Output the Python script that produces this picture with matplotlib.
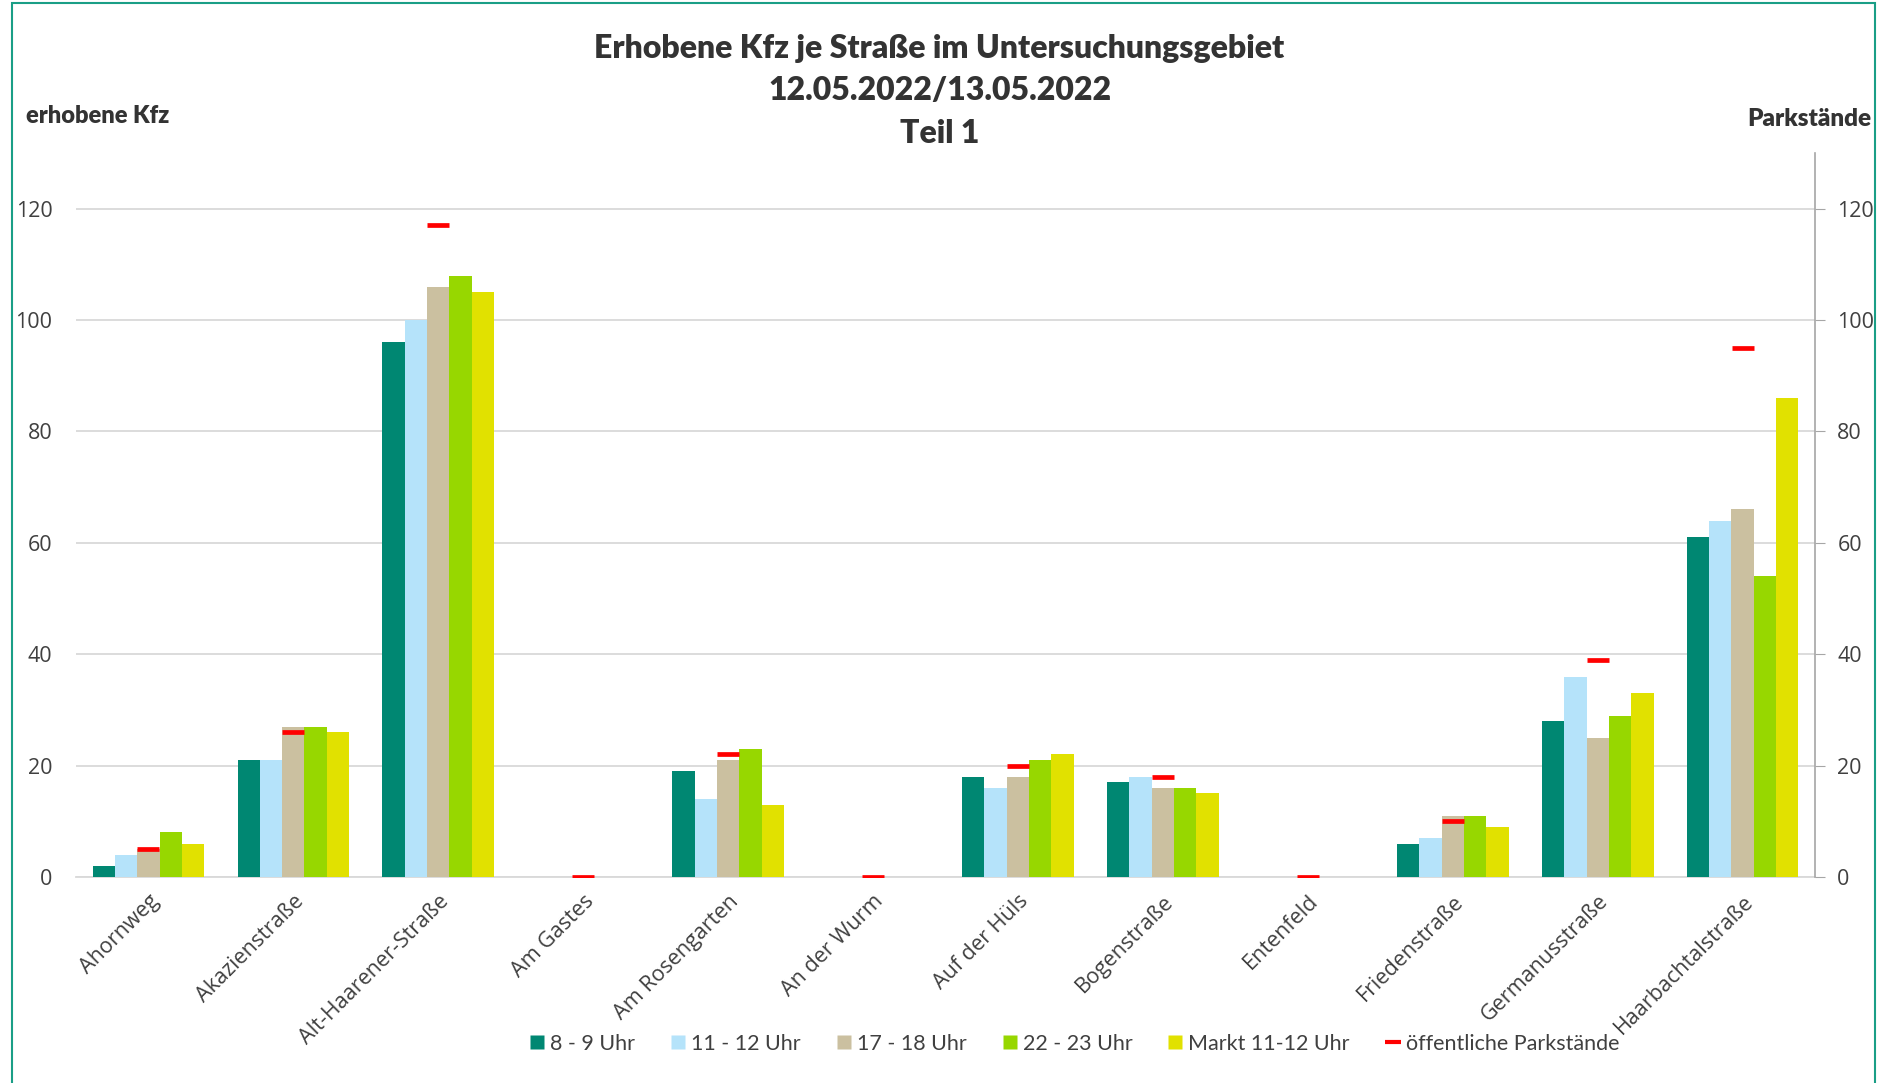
import matplotlib
matplotlib.use("Agg")
import matplotlib.pyplot as plt
import numpy as np
from matplotlib.patches import Rectangle
from matplotlib.lines import Line2D

plt.rcParams['font.family'] = ['Lato', 'DejaVu Sans']

categories = ["Ahornweg", "Akazienstraße", "Alt-Haarener-Straße", "Am Gastes",
              "Am Rosengarten", "An der Wurm", "Auf der Hüls", "Bogenstraße",
              "Entenfeld", "Friedenstraße", "Germanusstraße", "Haarbachtalstraße"]
s_8_9 = [2, 21, 96, 0, 19, 0, 18, 17, 0, 6, 28, 61]
s_11_12 = [4, 21, 100, 0, 14, 0, 16, 18, 0, 7, 36, 64]
s_17_18 = [5, 27, 106, 0, 21, 0, 18, 16, 0, 11, 25, 66]
s_22_23 = [8, 27, 108, 0, 23, 0, 21, 16, 0, 11, 29, 54]
s_markt = [6, 26, 105, 0, 13, 0, 22, 15, 0, 9, 33, 86]
parkstaende = [5, 26, 117, 0, 22, 0, 20, 18, 0, 10, 39, 95]

series_names = ["8 - 9 Uhr", "11 - 12 Uhr", "17 - 18 Uhr", "22 - 23 Uhr", "Markt 11-12 Uhr"]
colors = ["#008772", "#B5E3FA", "#CBC0A0", "#97D700", "#E1E100"]
series = [s_8_9, s_11_12, s_17_18, s_22_23, s_markt]

tick_font = ['Open Sans', 'DejaVu Sans']

fig = plt.figure(figsize=(18.79, 10.83), dpi=100)
ax = fig.add_axes([0.0404, 0.1902, 0.9256, 0.6685])
ax2 = ax.twinx()

x = np.arange(len(categories))
bw = 0.154
for i, (vals, c, name) in enumerate(zip(series, colors, series_names)):
    ax.bar(x + (i - 2) * bw, vals, width=bw, color=c, label=name, zorder=3,
           edgecolor='none')

ax2.plot(x, parkstaende, linestyle='none', marker='_', markersize=16,
         markeredgewidth=3.4, color='#FF0000', zorder=5)

for a in (ax, ax2):
    a.set_ylim(0, 130)
    a.set_xlim(-0.5, len(categories) - 0.5)

ax.set_yticks(np.arange(0, 121, 20))
ax2.set_yticks(np.arange(0, 121, 20))
ax.yaxis.grid(True, color='#D9D9D9', linewidth=1.3, zorder=0)
ax.set_axisbelow(True)
ax.tick_params(axis='y', length=0, labelsize=15.5, labelcolor='#404040', pad=17)
ax2.tick_params(axis='y', length=7, labelsize=15.5, labelcolor='#404040', color='#A6A6A6', pad=9)
for lbl in ax.get_yticklabels() + ax2.get_yticklabels():
    lbl.set_family(tick_font)
for s in ['top', 'left', 'right']:
    ax.spines[s].set_visible(False)
for s in ['top', 'left', 'bottom']:
    ax2.spines[s].set_visible(False)
ax2.spines['right'].set_color('#A6A6A6')
ax2.spines['right'].set_linewidth(1.2)
ax.spines['bottom'].set_color('#D9D9D9')
ax.spines['bottom'].set_linewidth(1.3)

ax.set_xticks(x)
ax.set_xticklabels(categories, rotation=45, ha='right', rotation_mode='anchor',
                   fontsize=15.5, color='#404040', family=tick_font)
ax.tick_params(axis='x', length=0, pad=10)

fig.text(0.5, 0.955, "Erhobene Kfz je Straße im Untersuchungsgebiet", ha='center', va='center',
         fontsize=23, fontweight='heavy', color='#333333')
fig.text(0.5, 0.916, "12.05.2022/13.05.2022", ha='center', va='center',
         fontsize=23, fontweight='heavy', color='#333333')
fig.text(0.5, 0.877, "Teil 1", ha='center', va='center',
         fontsize=23, fontweight='heavy', color='#333333')
fig.text(0.0138, 0.893, "erhobene Kfz", ha='left', va='center', fontsize=17,
         fontweight='heavy', color='#333333')
fig.text(0.9958, 0.890, "Parkstände", ha='right', va='center', fontsize=17.5,
         fontweight='heavy', color='#333333')

handles = [Line2D([0], [0], marker='s', linestyle='none', markersize=10,
                  markerfacecolor=c, markeredgecolor='none') for c in colors]
handles.append(Line2D([0], [0], marker='_', linestyle='none', markersize=12,
                      markeredgewidth=3, color='#FF0000'))
labels = series_names + ["öffentliche Parkstände"]
fig.legend(handles, labels, loc='center', bbox_to_anchor=(0.571, 0.036), ncol=6,
           frameon=False, fontsize=15.5, handletextpad=0.1, columnspacing=1.5,
           labelcolor='#404040', handlelength=1.0)

fig.add_artist(Rectangle((0.0064, -0.05), 0.9915, 1.047, transform=fig.transFigure,
                         fill=False, edgecolor='#1A9E86', linewidth=1.5))

fig.savefig("out.png", dpi=100)
